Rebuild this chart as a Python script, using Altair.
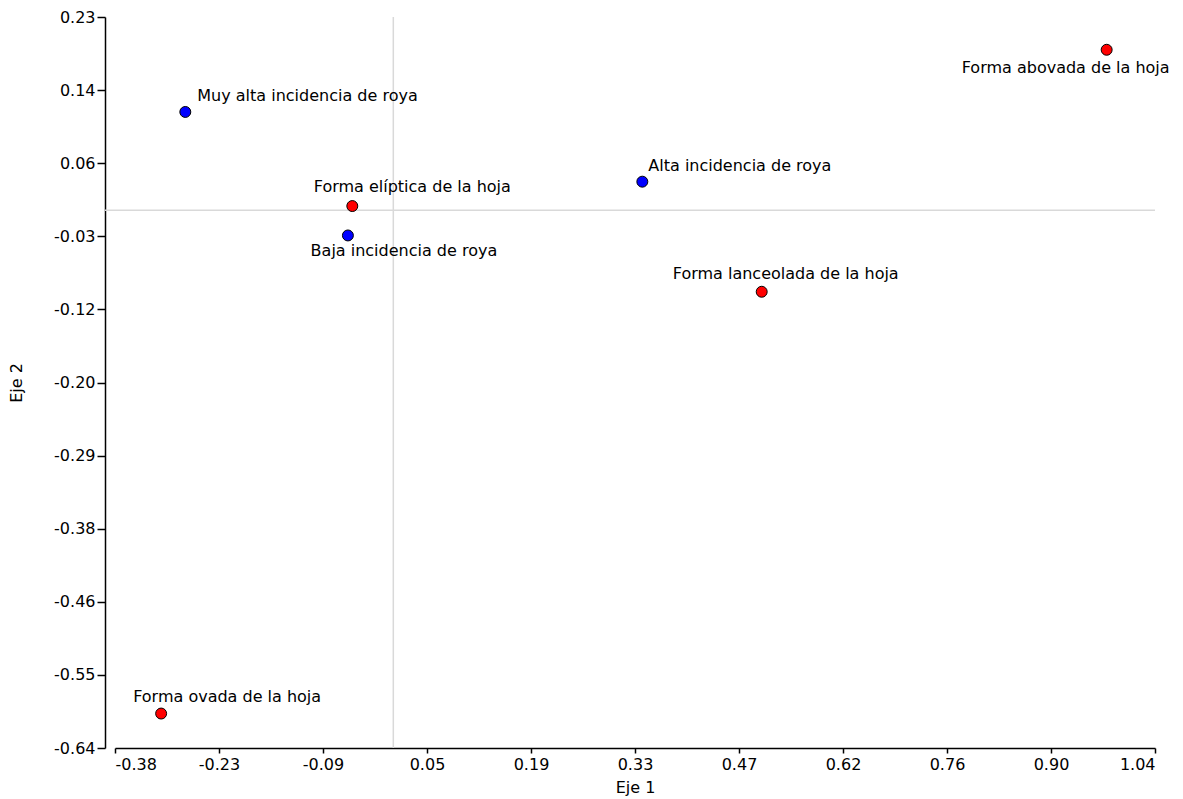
import altair as alt
import pandas as pd

# Correspondence analysis: leaf shape vs. rust incidence
etiquetas = [
    "Forma abovada de la hoja",
    "Muy alta incidencia de roya",
    "Alta incidencia de roya",
    "Forma elíptica de la hoja",
    "Baja incidencia de roya",
    "Forma lanceolada de la hoja",
    "Forma ovada de la hoja",
]
eje1 = [0.974, -0.284, 0.340, -0.056, -0.062, 0.503, -0.317]
eje2 = [0.191, 0.117, 0.034, 0.005, -0.030, -0.097, -0.599]
grupo = ["Forma", "Incidencia", "Incidencia", "Forma", "Incidencia", "Forma", "Forma"]

x_ticks = [-0.38 + i * 0.142 for i in range(11)]
x_tick_labels = ["-0.38", "-0.23", "-0.09", "0.05", "0.19", "0.33",
                 "0.47", "0.62", "0.76", "0.90", "1.04"]
y_ticks = [-0.64 + i * 0.087 for i in range(11)]
y_tick_labels = ["-0.64", "-0.55", "-0.46", "-0.38", "-0.29", "-0.20",
                 "-0.12", "-0.03", "0.06", "0.14", "0.23"]

# label placement around each point: (align, dx, dy)
colocacion = {
    "Forma abovada de la hoja": ("center", -41, 18),
    "Muy alta incidencia de roya": ("left", 12, -16),
    "Alta incidencia de roya": ("left", 6, -16),
    "Forma elíptica de la hoja": ("center", 60, -19),
    "Baja incidencia de roya": ("center", 56, 16),
    "Forma lanceolada de la hoja": ("center", 24, -18),
    "Forma ovada de la hoja": ("center", 66, -17),
}

W, H = 1040, 731
FONT = "DejaVu Sans"

df = pd.DataFrame({"etiqueta": etiquetas, "eje1": eje1, "eje2": eje2, "grupo": grupo})


def label_expr(start, step, labels):
    arr = "[" + ",".join(f"'{s}'" for s in labels) + "]"
    return f"{arr}[round((datum.value - ({start})) / {step})]"


x_scale = alt.Scale(domain=[-0.38, 1.04], nice=False, zero=False)
y_scale = alt.Scale(domain=[-0.64, 0.23], nice=False, zero=False)

x_enc = alt.X(
    "eje1:Q", scale=x_scale,
    axis=alt.Axis(values=x_ticks, labelExpr=label_expr(-0.38, 0.142, x_tick_labels),
                  title="Eje 1", tickSize=5, labelPadding=3, titlePadding=7),
)
y_enc = alt.Y(
    "eje2:Q", scale=y_scale,
    axis=alt.Axis(values=y_ticks, labelExpr=label_expr(-0.64, 0.087, y_tick_labels),
                  title="Eje 2", tickSize=8, labelPadding=2, offset=10,
                  titleX=-81, titleY=H / 2),
)

vline = alt.Chart(pd.DataFrame({"v": [0.0]})).mark_rule(
    color="#d9d9d9", strokeWidth=1.5
).encode(x=alt.X("v:Q", scale=x_scale))

hline = alt.Chart(pd.DataFrame({"h": [0.0]})).mark_rule(
    color="#d9d9d9", strokeWidth=1.5
).encode(y=alt.Y("h:Q", scale=y_scale), x=alt.value(-10), x2=alt.value(W))

points = alt.Chart(df).mark_point(
    filled=True, shape="circle", size=120, stroke="black", strokeWidth=1, opacity=1
).encode(
    x=x_enc,
    y=y_enc,
    fill=alt.Fill("grupo:N", scale=alt.Scale(domain=["Forma", "Incidencia"],
                                             range=["#ff0000", "#0000ff"]), legend=None),
)

layers = [vline, hline, points]
for nombre, (align, dx, dy) in colocacion.items():
    layers.append(
        alt.Chart(df).transform_filter(alt.datum.etiqueta == nombre).mark_text(
            align=align, baseline="middle", dx=dx, dy=dy,
            font=FONT, fontSize=16, color="black",
        ).encode(
            x=alt.X("eje1:Q", scale=x_scale),
            y=alt.Y("eje2:Q", scale=y_scale),
            text="etiqueta:N",
        )
    )

chart = alt.layer(*layers).properties(
    width=W, height=H,
    autosize="none",
    padding={"left": 115, "top": 17, "right": 28, "bottom": 51},
).configure_view(stroke=None).configure_axis(
    grid=False,
    labelFont=FONT, labelFontSize=16, labelColor="black",
    titleFont=FONT, titleFontSize=16, titleFontWeight="normal", titleColor="black",
    domainColor="black", domainWidth=1.5, tickColor="black", tickWidth=1.5,
)

chart.save("out.html", embed_options={"renderer": "svg", "actions": False})
